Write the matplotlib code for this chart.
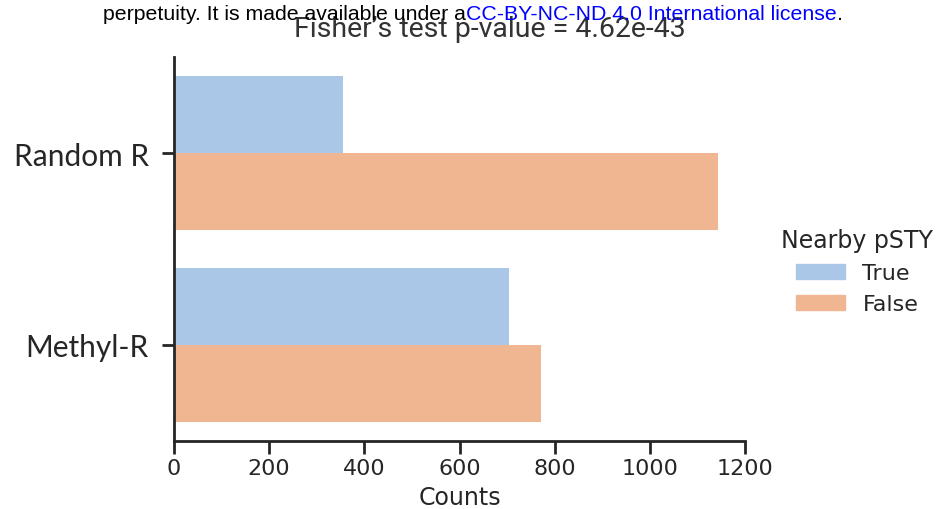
import matplotlib
matplotlib.use("Agg")
import matplotlib.pyplot as plt
from matplotlib.patches import Patch

# counts per site class, split by whether a pSTY site is nearby
categories = ["Random R", "Methyl-R"]
nearby_true = [355, 705]
nearby_false = [1143, 772]
hue_labels = ["True", "False"]
x_ticks = [0, 200, 400, 600, 800, 1000, 1200]
title = "Fisher\u2019s test p-value = 4.62e-43"

blue = "#abc7e7"
orange = "#efb691"
ink = "#262626"

fig = plt.figure(figsize=(9.43, 5.10), dpi=100)
ax = fig.add_axes([174 / 943, 68 / 510, 571 / 943, 384 / 510])

pos = list(range(len(categories)))
ax.barh([p - 0.2 for p in pos], nearby_true, height=0.4, color=blue)
ax.barh([p + 0.2 for p in pos], nearby_false, height=0.4, color=orange)

ax.set_ylim(1.5, -0.5)
ax.set_xlim(0, 1200)
ax.set_yticks(pos)
ax.set_yticklabels(categories, family=["Lato", "DejaVu Sans"], fontsize=21.5, color=ink)
ax.set_xticks(x_ticks)
ax.set_xticklabels([str(t) for t in x_ticks], family="DejaVu Sans", fontsize=16, color=ink)
ax.set_xlabel("Counts", family="DejaVu Sans", fontsize=17, color=ink, labelpad=5)

for side in ["top", "right"]:
    ax.spines[side].set_visible(False)
for side in ["left", "bottom"]:
    ax.spines[side].set_linewidth(2)
    ax.spines[side].set_color(ink)
ax.tick_params(axis="both", length=9, width=2, color=ink)
ax.tick_params(axis="y", pad=9)
ax.tick_params(axis="x", pad=3)

handles = [Patch(color=blue), Patch(color=orange)]
leg = fig.legend(handles, hue_labels, title="Nearby pSTY", frameon=False,
                 loc="upper left", bbox_to_anchor=(770 / 943, 1 - 218 / 510), borderpad=0,
                 prop={"family": "DejaVu Sans", "size": 16},
                 handlelength=2.2, handleheight=0.7, handletextpad=0.8, labelspacing=0.5)
leg.get_title().set_fontsize(17)
leg.get_title().set_color(ink)
for t in leg.get_texts():
    t.set_color(ink)

fig.text(490 / 943, 1 - 37 / 510, title, ha="center", va="baseline",
         family=["Roboto", "DejaVu Sans"], fontsize=20.5, color="#333333")

# preprint licence line along the top edge
x0 = 103 / 943
y0 = 1 - 20 / 510
fs = 15.3
t1 = fig.text(x0, y0, "perpetuity. It is made available under a", family="Liberation Sans",
              fontsize=fs, color="black", va="baseline")
fig.canvas.draw()
bb = t1.get_window_extent()
t2 = fig.text(bb.x1 / 943, y0, "CC-BY-NC-ND 4.0 International license", family="Liberation Sans",
              fontsize=fs, color="#0000ff", va="baseline")
fig.canvas.draw()
bb = t2.get_window_extent()
fig.text(bb.x1 / 943, y0, ".", family="Liberation Sans", fontsize=fs, color="black", va="baseline")

fig.savefig("out.png", dpi=100)
